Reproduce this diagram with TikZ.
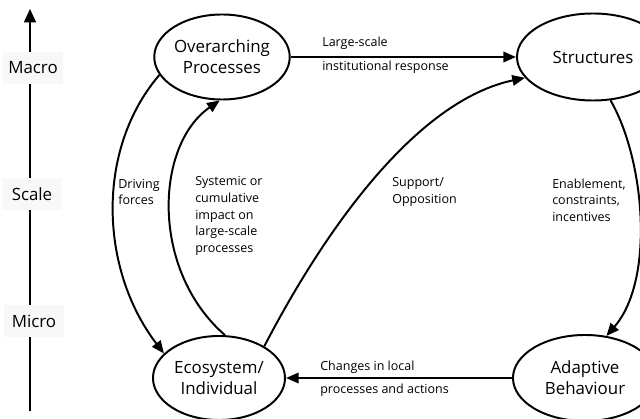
\documentclass[tikz,border=0pt]{standalone}
\usepackage{fontspec}
\setmainfont{Open Sans}
\usetikzlibrary{arrows.meta,shapes.geometric}
\definecolor{labelbg}{RGB}{247,248,247}
\begin{document}
\begin{tikzpicture}[x=0.025cm,y=-0.025cm,
  every node/.style={inner sep=0pt},
  conn/.style={line width=1.4pt,-{Triangle[length=9pt,width=7.5pt]}},
  stage/.style={ellipse,draw,line width=1.4pt,align=center,
    font=\fontsize{12}{14.7}\selectfont},
  note/.style={anchor=west,align=left,font=\fontsize{8.9}{11.8}\selectfont},
  scalelbl/.style={fill=labelbg,minimum width=1.5cm,minimum height=0.8cm,
    font=\fontsize{12}{13}\selectfont}]
\useasboundingbox (0,0) rectangle (640,419);

% scale axis
\coordinate (axbot) at (30,411);
\coordinate (axtop) at (30,9);
\draw[line width=1.4pt,-{Triangle[length=9.5pt,width=8.5pt]}] (axbot) -- (axtop);
\node[scalelbl] (macro) at (33,68) {Macro};
\node[scalelbl] (scale) at (32,194) {Scale};
\node[scalelbl] (micro) at (34,321) {Micro};

% the four stages
\node[stage,minimum width=3.275cm,minimum height=2.125cm] (op) at (222,57) {Overarching\\Processes};
\node[stage,minimum width=3.8cm,minimum height=2.175cm] (st) at (593,57) {Structures};
\node[stage,minimum width=3.6cm,minimum height=2.15cm] (ad) at (585,378) {Adaptive\\Behaviour};
\node[stage,minimum width=3.3cm,minimum height=2.1cm] (ec) at (219,378) {Ecosystem/\\Individual};

% connectors
\draw[conn] (op.east) -- (st.west);
\draw[conn] (ad.west) -- (ec.east);
\draw[conn] (op.196) .. controls (95,150) and (100,270) .. (ec.156);
\draw[conn] (ec.82) .. controls (150,270) and (155,145) .. (op.267);
\draw[conn] (ec.35) .. controls (330,220) and (420,100) .. (st.197);
\draw[conn] (st.292) .. controls (645,160) and (655,280) .. (ad.63);

% connector labels
\node[note] (l1) at (322,43) {Large-scale};
\node[note] (l2) at (322,67) {institutional response};
\node[note] (l3) at (118,192) {Driving\\forces};
\node[note] (l4) at (195,216) {Systemic or\\cumulative\\impact on\\large-scale\\processes};
\node[note] (l5) at (392,192) {Support/\\Opposition};
\node[note] (l6) at (552,200) {Enablement,\\constraints,\\incentives};
\node[note] (l7) at (320,367) {Changes in local};
\node[note] (l8) at (320,390) {processes and actions};
\end{tikzpicture}
\end{document}
